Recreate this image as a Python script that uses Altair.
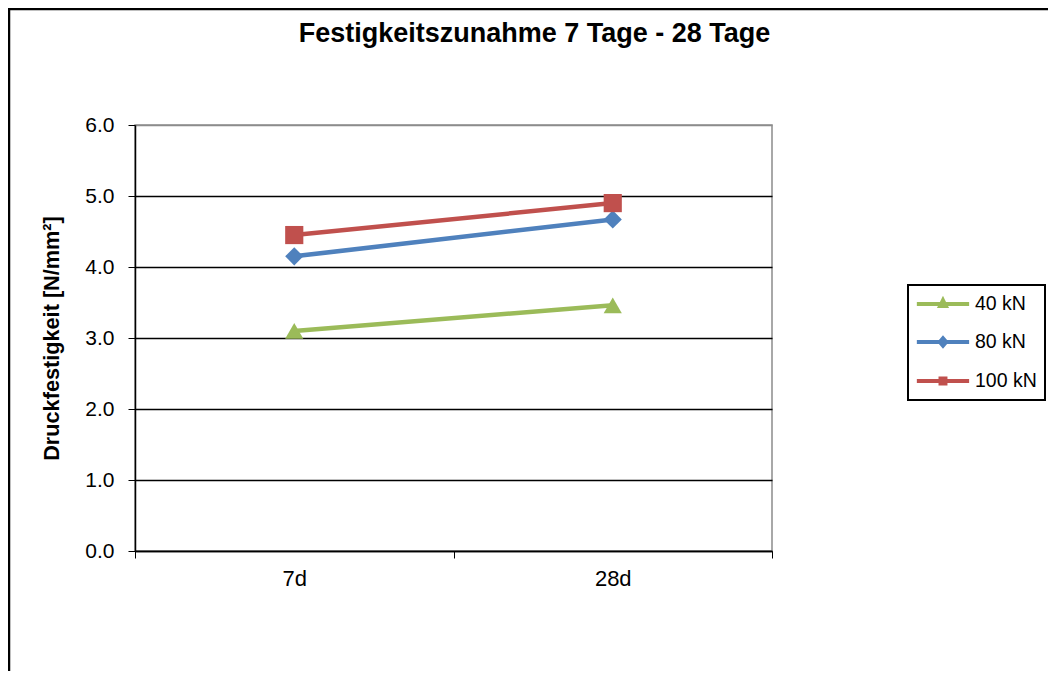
import altair as alt
import pandas as pd

# ---- data ----
tage = ["7d", "28d"]
reihen = ["40 kN", "80 kN", "100 kN"]
werte_40 = [3.10, 3.46]
werte_80 = [4.15, 4.67]
werte_100 = [4.45, 4.90]
farben = ["#9BBB59", "#4F81BD", "#C0504D"]
marker = ["triangle-up", "diamond", "square"]

rows = []
for name, werte in zip(reihen, [werte_40, werte_80, werte_100]):
    for t, w in zip(tage, werte):
        rows.append({"Tage": t, "Wert": w, "Reihe": name})
df = pd.DataFrame(rows)

# legend symbols: line + marker (custom paths, shifted right inside the legend box)
leg_paths = [
    "M-1.15,0H4.77M1.81,-0.42L2.13,0.22L1.49,0.22Z",
    "M-1.15,0H4.77M1.81,-0.42L2.17,0L1.81,0.42L1.45,0Z",
    "M-1.15,0H4.77M1.53,-0.28H2.09V0.28H1.53Z",
]

FONT = "Liberation Sans"
W, H = 637, 426

x_enc = alt.X(
    "Tage:N",
    sort=tage,
    bandPosition=0.5,
    scale=alt.Scale(type="band", domain=tage, paddingInner=0, paddingOuter=0),
    axis=alt.Axis(
        title=None,
        tickBand="extent",
        tickSize=7,
        tickColor="black",
        domainColor="black",
        domainWidth=1.5,
        labelFontSize=22,
        labelColor="black",
        labelPadding=10,
        labelAngle=0,
        grid=False,
    ),
)
y_enc = alt.Y(
    "Wert:Q",
    scale=alt.Scale(domain=[0, 6], nice=False),
    axis=alt.Axis(
        title="Druckfestigkeit [N/mm²]",
        titleFontSize=21.7,
        titleFontWeight="bold",
        titleColor="black",
        titlePadding=21,
        values=[0, 1, 2, 3, 4, 5, 6],
        format=".1f",
        tickSize=7,
        tickColor="black",
        domainColor="black",
        domainWidth=1.5,
        labelFontSize=21,
        labelColor="black",
        labelPadding=14,
        grid=True,
        gridColor={"condition": {"test": "datum.value == 6", "value": "#8c8c8c"}, "value": "black"},
        gridWidth=1.3,
    ),
)

color_scale = alt.Scale(domain=reihen, range=farben)

lines = alt.Chart(df).mark_line(strokeWidth=4.5).encode(
    x=x_enc,
    y=y_enc,
    color=alt.Color("Reihe:N", scale=color_scale, legend=None),
    detail="Reihe:N",
)

point_layers = []
for name, shp in zip(reihen, marker):
    point_layers.append(
        alt.Chart(df)
        .transform_filter(alt.datum.Reihe == name)
        .mark_point(filled=True, opacity=1, size=330, shape=shp)
        .encode(
            x=x_enc,
            y=y_enc,
            color=alt.Color("Reihe:N", scale=color_scale, legend=None),
        )
    )

legend_def = alt.Legend(
    title=None,
    orient="none",
    legendX=773,
    legendY=160,
    symbolOpacity=1,
    symbolStrokeWidth=4,
    symbolSize=312,
    labelFontSize=19.5,
    labelColor="black",
    labelOffset=37,
    rowPadding=16,
    padding=8,
    strokeColor="black",
)

legend_layer = alt.Chart(df).mark_point(filled=True, opacity=0, strokeWidth=4).encode(
    x=x_enc,
    y=y_enc,
    fill=alt.Fill("Reihe:N", scale=alt.Scale(domain=reihen, range=farben), legend=legend_def),
    stroke=alt.Stroke("Reihe:N", scale=alt.Scale(domain=reihen, range=farben), legend=legend_def),
    shape=alt.Shape("Reihe:N", scale=alt.Scale(domain=reihen, range=leg_paths), legend=legend_def),
)

frame = alt.Chart(pd.DataFrame({"k": [0]})).mark_rect(
    fill=None, stroke="black", strokeWidth=2.5, clip=False
).encode(
    x=alt.value(-126),
    x2=alt.value(W + 300),
    y=alt.value(-116),
    y2=alt.value(H + 200),
)

chart = (
    alt.layer(frame, lines, *point_layers, legend_layer)
    .resolve_scale(fill="independent", stroke="independent", shape="independent")
    .resolve_legend(fill="independent", stroke="independent", shape="independent")
    .properties(
        width=W,
        height=H,
        padding={"left": 127, "top": 117, "right": 276, "bottom": 120},
        autosize=alt.AutoSizeParams(type="none"),
        title=alt.TitleParams(
            "Festigkeitszunahme 7 Tage - 28 Tage",
            fontSize=27,
            fontWeight="bold",
            font=FONT,
            color="black",
            anchor="middle",
            frame="group",
            baseline="alphabetic",
            dx=81,
            dy=61,
            offset=0,
        ),
    )
    .configure(font=FONT)
    .configure_view(stroke="#8c8c8c", strokeWidth=1.5)
    .configure_axis(labelFont=FONT, titleFont=FONT)
    .configure_legend(labelFont=FONT, strokeWidth=2)
)

chart.save("out.html", embed_options={"renderer": "svg", "actions": False})
